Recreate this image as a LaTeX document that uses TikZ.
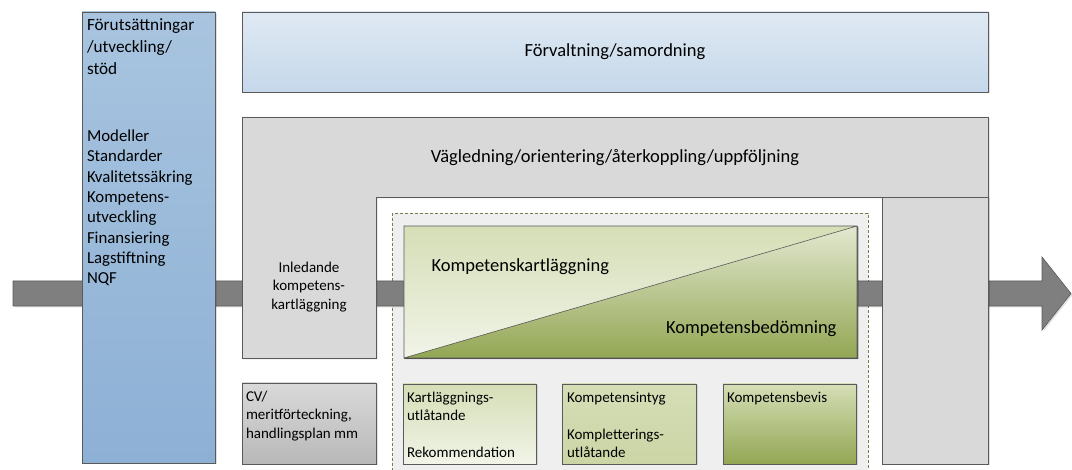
\documentclass[tikz,border=0pt]{standalone}
\usepackage{fontspec}
\setmainfont{Carlito}
\usetikzlibrary{shadows,calc}

\definecolor{boxline}{HTML}{5A5A5A}
\definecolor{greybox}{HTML}{D9D9D9}
\definecolor{bandgrey}{HTML}{7F7F7F}
\definecolor{dashline}{HTML}{7A7A50}
\definecolor{dashfill}{HTML}{EFEFEF}
\definecolor{blueA}{HTML}{A8C4DF}
\definecolor{blueB}{HTML}{8DB0D5}
\definecolor{skyA}{HTML}{DFE9F3}
\definecolor{skyB}{HTML}{C5D8EA}
\definecolor{greenA}{HTML}{D5DEB6}
\definecolor{greenB}{HTML}{F1F4E8}
\definecolor{greenC}{HTML}{CBD5A5}
\definecolor{greenD}{HTML}{93A653}
\definecolor{greenE}{HTML}{E2E8D0}

\newcommand{\bigfont}{\fontsize{18.5}{22}\selectfont}
\newcommand{\headfont}{\fontsize{17.2}{22}\selectfont}
\newcommand{\midfont}{\fontsize{16.8}{20.3}\selectfont}
\newcommand{\smallfont}{\fontsize{15}{18.5}\selectfont}

\tikzset{
  shade/.style={drop shadow={shadow xshift=1.5pt, shadow yshift=-1.5pt, fill=black, opacity=.12}},
  box/.style={draw=boxline, line width=.6pt, inner sep=0pt, outer sep=0pt, anchor=north west, shade},
  txt/.style={inner sep=0pt, outer sep=0pt, align=left, anchor=north west},
  band/.style={draw=boxline, fill=bandgrey, line width=.6pt, shade},
  dashbox/.style={draw=dashline, fill=dashfill, line width=.6pt, dash pattern=on 3pt off 2pt},
}

\begin{document}
\begin{tikzpicture}[x=1pt, y=-1pt]
  \useasboundingbox (0,0) rectangle (1072,470);
  % dashed area
  \filldraw[dashbox] (392,213) rectangle (868,480);
  % flow arrow
  \coordinate (in) at (13,293.5);
  \coordinate (out) at (1071,293.5);
  \draw[band] ($(in)+(0,-12.5)$) -- (1042,281) -- (1042,257) -- (out)
    -- (1042,330) -- (1042,306) -- ($(in)+(0,12.5)$) -- cycle;
  % left column
  \node[box, minimum width=133pt, minimum height=451pt,
    top color=blueA, bottom color=blueB] (stod) at (82,12) {};
  \node[txt, font=\headfont] (stodhead) at (87,19)
    {Förutsättningar\\/utveckling/\\stöd};
  \node[txt, font=\midfont] (stodlist) at (87,130)
    {Modeller\\Standarder\\Kvalitetssäkring\\Kompetens-\\utveckling\\Finansiering\\Lagstiftning\\NQF};
  % top boxes
  \node[box, minimum width=746pt, minimum height=80pt,
    top color=skyA, bottom color=skyB] (forv) at (242,12) {};
  \node[font=\bigfont] (forvtext) at (forv.center) {Förvaltning/samordning};
  \draw[draw=boxline, fill=greybox, line width=.6pt, shade]
    (242,117) -- (988,117) -- (988,358) -- (882,358) -- (882,197)
    -- (376,197) -- (376,358) -- (242,358) -- cycle;
  \node[font=\bigfont] (vagl) at (615,158)
    {Vägledning/orientering/återkoppling/uppföljning};
  \node[font=\smallfont, align=center] (inled) at (309,287)
    {Inledande\\kompetens-\\kartläggning};
  \node[box, minimum width=106pt, minimum height=267pt, fill=greybox] (slut) at (882,197) {};
  % mapping and assessment
  \node[box, minimum width=453pt, minimum height=132pt, fill=greenB] (kart) at (404,226) {};
  \shade[top color=greenA, bottom color=greenB]
    (kart.south west) -- (kart.north west) -- (kart.north east) -- cycle;
  \shade[top color=greenE, bottom color=greenD]
    (kart.south west) -- (kart.north east) -- (kart.south east) -- cycle;
  \draw[boxline, line width=.6pt] (kart.south west) -- (kart.north east)
    (kart.north west) rectangle (kart.south east);
  \node[font=\bigfont, anchor=west] (karttext) at (428,267) {Kompetenskartläggning};
  \node[font=\bigfont, anchor=east] (bedtext) at (840,329) {Kompetensbedömning};
  % documents
  \node[box, minimum width=134pt, minimum height=81pt,
    top color=greybox, bottom color=greybox!85!black] (cv) at (242,383) {};
  \node[txt, font=\smallfont] (cvtext) at (246,391)
    {CV/\\meritförteckning,\\handlingsplan mm};
  \node[box, minimum width=133pt, minimum height=80pt,
    top color=greenA, bottom color=greenB] (utl) at (403,384) {};
  \node[txt, font=\smallfont] (utltext) at (407,392)
    {Kartläggnings-\\utlåtande\\[18.5pt]Rekommendation};
  \node[box, minimum width=134pt, minimum height=80pt,
    top color=greenA, bottom color=greenC] (intyg) at (562,384) {};
  \node[txt, font=\smallfont] (intygtext) at (567,392)
    {Kompetensintyg\\[18.5pt]Kompletterings-\\utlåtande};
  \node[box, minimum width=133pt, minimum height=80pt,
    top color=greenA, bottom color=greenD] (bevis) at (723,384) {};
  \node[txt, font=\smallfont] (bevistext) at (727,392) {Kompetensbevis};
\end{tikzpicture}
\end{document}
